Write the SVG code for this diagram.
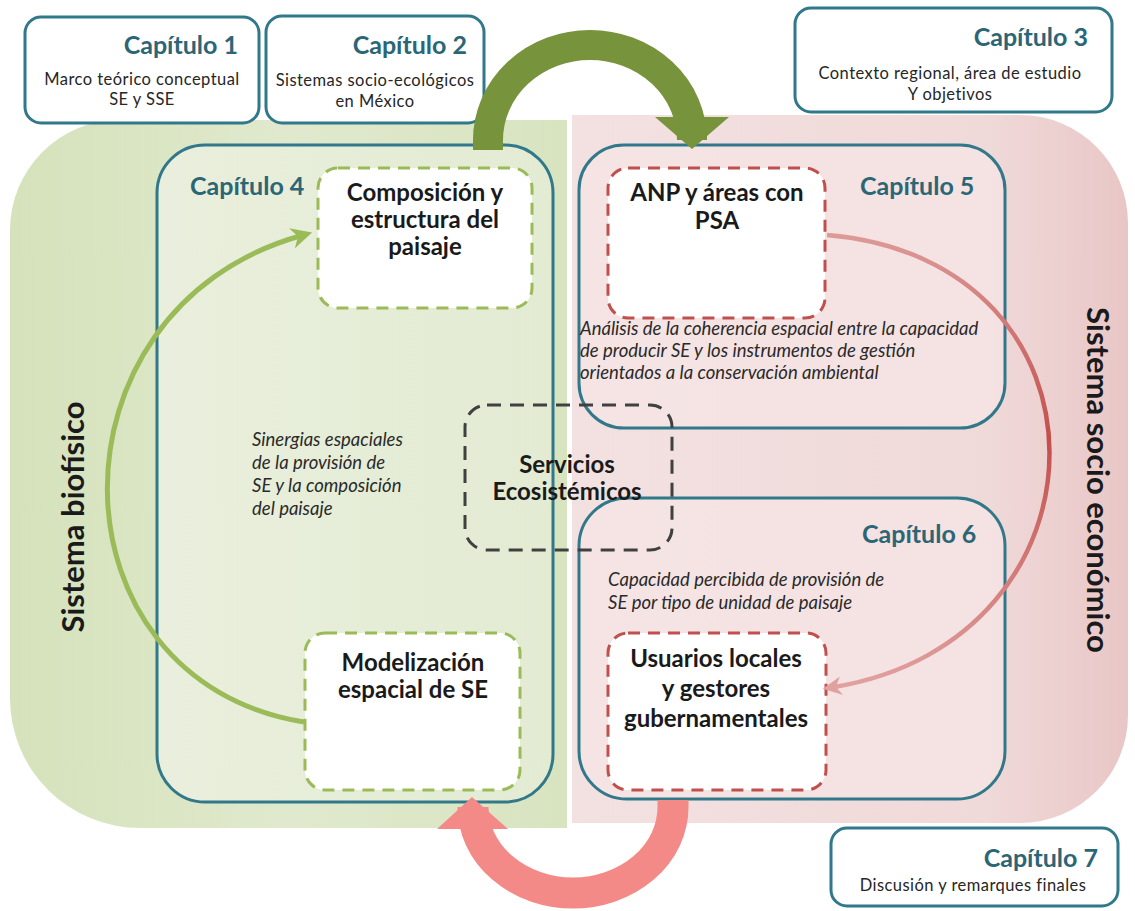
<svg xmlns="http://www.w3.org/2000/svg" width="1135" height="911" viewBox="0 0 1135 911">
<defs>
<linearGradient id="gbg" x1="0" y1="0" x2="1" y2="0">
<stop offset="0" stop-color="#d5e2bb"/><stop offset="0.5" stop-color="#e0e9cd"/><stop offset="1" stop-color="#d8e4c0"/>
</linearGradient>
<linearGradient id="ginner" x1="0" y1="0" x2="1" y2="0">
<stop offset="0" stop-color="#e9efdc"/><stop offset="1" stop-color="#e3ebd3"/>
</linearGradient>
<linearGradient id="pbg" x1="0" y1="0" x2="1" y2="0">
<stop offset="0" stop-color="#f3e1e1"/><stop offset="0.75" stop-color="#f0d9d9"/><stop offset="1" stop-color="#e9c6c6"/>
</linearGradient>
<linearGradient id="redarc" x1="0" y1="0" x2="0" y2="1">
<stop offset="0" stop-color="#dc9a98"/><stop offset="0.45" stop-color="#c24f4c"/><stop offset="1" stop-color="#e0a2a0"/>
</linearGradient>
<marker id="mg" viewBox="0 0 10 10" refX="4" refY="5" markerWidth="4.2" markerHeight="4.2" orient="auto" markerUnits="strokeWidth">
<path d="M0,0 L10,5 L0,10 L3,5 Z" fill="#9bbb59"/>
</marker>
<marker id="mr" viewBox="0 0 10 10" refX="4" refY="5" markerWidth="4.2" markerHeight="4.2" orient="auto" markerUnits="strokeWidth">
<path d="M0,0 L10,5 L0,10 L3,5 Z" fill="#e0a2a0"/>
</marker>
<style>
.chap{fill:#fff;stroke:#31788a;stroke-width:3}
.big{stroke:#31788a;stroke-width:3}
.ttl{font-family:Lato,"Open Sans",sans-serif;font-weight:bold;font-size:25px;fill:#2b6676}
.body{font-family:Lato,"Open Sans",sans-serif;font-size:16.5px;letter-spacing:0.45px;fill:#262626}
.it{font-family:Lato,"Open Sans",sans-serif;font-style:italic;font-size:18.5px;fill:#2a2a2a}
.node{font-family:Lato,"Open Sans",sans-serif;font-weight:bold;font-size:24px;fill:#1a1a1a;text-anchor:middle}
.side{font-family:Lato,"Open Sans",sans-serif;font-weight:bold;font-size:31px;fill:#1a1a1a;text-anchor:middle}
.dg{fill:#fff;stroke:#9bbb59;stroke-width:3;stroke-dasharray:12 8}
.dr{fill:#fff;stroke:#c0504d;stroke-width:3;stroke-dasharray:12 8}
.dk{fill:none;stroke:#404040;stroke-width:3;stroke-dasharray:14 9}
</style>
</defs>
<rect width="1135" height="911" fill="#fff"/>

<g id="bg-biofisico">
<path d="M567,120 L567,828 L140,828 A130,130 0 0 1 10,698 L10,230 A110,110 0 0 1 120,120 Z" fill="url(#gbg)"/>
</g>
<g id="bg-socio">
<path d="M572,115 L1020,115 A108,108 0 0 1 1128,223 L1128,715 A108,108 0 0 1 1020,823 L572,823 Z" fill="url(#pbg)"/>
</g>

<g id="cap4">
<rect x="157" y="145" width="396" height="657" rx="48" fill="url(#ginner)" class="big"/>
<text class="ttl" x="190" y="195">Capítulo 4</text>
</g>
<g id="cap5">
<rect x="579" y="145" width="426" height="283" rx="45" fill="#f6e6e6" fill-opacity="0.7" class="big"/>
<text class="ttl" x="860" y="195">Capítulo 5</text>
<text class="it" x="580" y="335">Análisis de la coherencia espacial entre la capacidad</text>
<text class="it" x="580" y="357">de producir SE y los instrumentos de gestión</text>
<text class="it" x="580" y="379">orientados a la conservación ambiental</text>
</g>
<g id="cap6">
<rect x="579" y="498" width="426" height="301" rx="48" fill="#f6e6e6" fill-opacity="0.7" class="big"/>
<text class="ttl" x="862" y="543">Capítulo 6</text>
<text class="it" x="608" y="586">Capacidad percibida de provisión de</text>
<text class="it" x="608" y="609">SE por tipo de unidad de paisaje</text>
</g>

<g id="composicion">
<rect x="318" y="168" width="214" height="140" rx="20" class="dg"/>
<text class="node" x="425" y="201">Composición y</text>
<text class="node" x="425" y="228">estructura del</text>
<text class="node" x="425" y="255">paisaje</text>
</g>
<g id="anp">
<rect x="608" y="168" width="217" height="150" rx="20" class="dr"/>
<text class="node" x="717" y="201">ANP y áreas con</text>
<text class="node" x="717" y="229">PSA</text>
</g>
<g id="servicios">
<rect x="465" y="405" width="207" height="145" rx="22" class="dk"/>
<text class="node" x="567" y="473">Servicios</text>
<text class="node" x="567" y="500">Ecosistémicos</text>
</g>
<g id="sinergias">
<text class="it" x="252" y="446">Sinergias espaciales</text>
<text class="it" x="252" y="469">de la provisión de</text>
<text class="it" x="252" y="492">SE y la composición</text>
<text class="it" x="252" y="515">del paisaje</text>
</g>
<g id="modelizacion">
<rect x="305" y="633" width="215" height="157" rx="20" class="dg"/>
<text class="node" x="413" y="671">Modelización</text>
<text class="node" x="413" y="698">espacial de SE</text>
</g>
<g id="usuarios">
<rect x="608" y="633" width="218" height="157" rx="20" class="dr"/>
<text class="node" x="716" y="667">Usuarios locales</text>
<text class="node" x="716" y="697">y gestores</text>
<text class="node" x="716" y="727">gubernamentales</text>
</g>

<g id="labels">
<text class="side" transform="translate(84,517) rotate(-90)">Sistema biofísico</text>
<text class="side" transform="translate(1087,480) rotate(90)">Sistema socio económico</text>
</g>

<g id="cap1">
<rect x="25" y="17" width="234" height="106" rx="16" class="chap"/>
<text class="ttl" x="238" y="54" text-anchor="end">Capítulo 1</text>
<text class="body" x="142" y="85" text-anchor="middle">Marco teórico conceptual</text>
<text class="body" x="142" y="105" text-anchor="middle">SE y SSE</text>
</g>
<g id="cap2">
<rect x="266" y="16" width="218" height="107" rx="16" class="chap"/>
<text class="ttl" x="467" y="54" text-anchor="end">Capítulo 2</text>
<text class="body" x="375" y="86" text-anchor="middle">Sistemas socio-ecológicos</text>
<text class="body" x="375" y="107" text-anchor="middle">en México</text>
</g>
<g id="cap3">
<rect x="795" y="8" width="317" height="104" rx="16" class="chap"/>
<text class="ttl" x="1088" y="46" text-anchor="end">Capítulo 3</text>
<text class="body" x="950" y="79" text-anchor="middle">Contexto regional, área de estudio</text>
<text class="body" x="950" y="100" text-anchor="middle">Y objetivos</text>
</g>
<g id="cap7">
<rect x="831" y="828" width="287" height="78" rx="16" class="chap"/>
<text class="ttl" x="1098" y="867" text-anchor="end">Capítulo 7</text>
<text class="body" x="973" y="891" text-anchor="middle">Discusión y remarques finales</text>
</g>

<g id="connectors">
<path d="M304,722 C45,680 40,310 300,236" fill="none" stroke="#9bbb59" stroke-width="5" marker-end="url(#mg)"/>
<path d="M827,235 C1125,260 1120,640 834,687" fill="none" stroke="url(#redarc)" stroke-width="4.5" marker-end="url(#mr)"/>
<path d="M488,150 L488,140 A102,95 0 0 1 692,140 L692,118" fill="none" stroke="#77933c" stroke-width="30"/>
<polygon points="655,117 729,117 692,149" fill="#77933c"/>
<path d="M673,800 L673,807 A100,86 0 0 1 473,807 L473,829" fill="none" stroke="#f48a87" stroke-width="31"/>
<polygon points="437,829 508,829 472,797" fill="#f48a87"/>
</g>
</svg>
